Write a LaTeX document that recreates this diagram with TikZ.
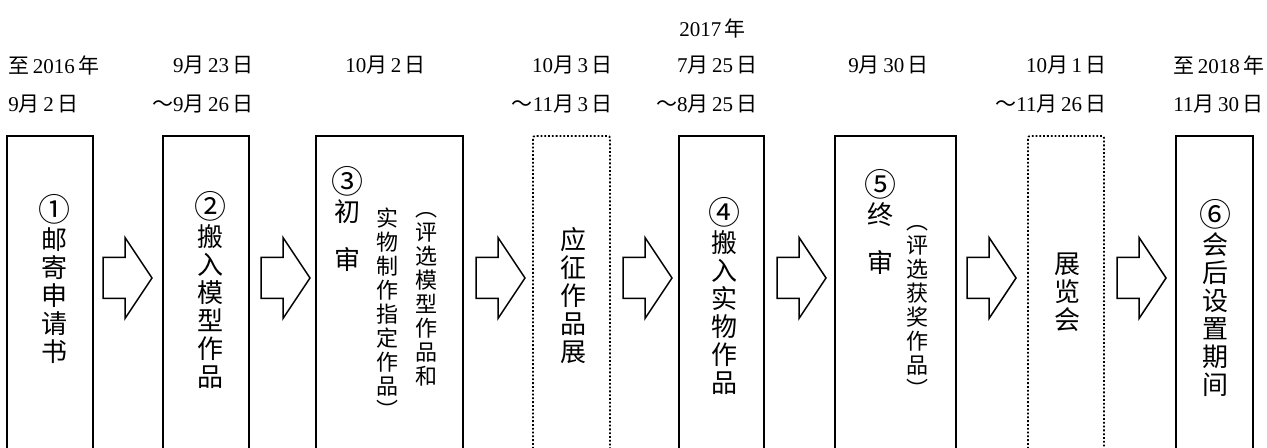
\documentclass[tikz,border=0pt]{standalone}
\usepackage{fontspec}
\setmainfont{Liberation Serif}
\newfontfamily\cjk{Noto Sans CJK SC}
\newcommand{\zh}[1]{{\cjk #1}}
\newcommand{\num}[1]{\raisebox{0pt}[10.5pt][0pt]{\fontsize{16}{14}\selectfont #1}}

\tikzset{
  frame/.style={line width=1.15pt},
  dotframe/.style={line width=.9pt, densely dotted, rounded corners=1pt},
  date/.style={inner sep=0pt, font=\fontsize{10.5}{12}\selectfont},
  vbig/.style={inner sep=0pt, anchor=north, align=center, font=\cjk\fontsize{13}{14}\selectfont},
  vsmall/.style={inner sep=0pt, anchor=north, align=center, font=\cjk\fontsize{11}{12}\selectfont},
  bigarrow/.pic={
    \draw[line width=.75pt, line join=miter] (0,-20.5) -- ++(22,0) -- ++(0,-20) -- ++(27,40.5)
      -- ++(-27,40.5) -- ++(0,-20) -- ++(-22,0) -- cycle;
  }
}

\begin{document}
\begin{tikzpicture}[x=.5pt, y=-.5pt]
  \useasboundingbox (0,0) rectangle (1267,448);

  % frames, open at the bottom
  \foreach \l/\r in {7/93, 163/249, 316/463, 679/764, 835/956, 1176/1253}
    \draw[frame] (\l,460) |- (\r,136) -- (\r,460);
  \draw[dotframe] (533,460) |- (610,136) -- (610,460);
  \draw[dotframe] (1028,460) |- (1104,136) -- (1104,460);

  % block arrows
  \foreach \x [count=\i] in {103, 261, 476, 623, 777, 967, 1117}
    \pic (a\i) at (\x,278) {bigarrow};

  % dates
  \node[date, anchor=west] (d1a) at (8,65) {\zh{至}\,2016\,\zh{年}};
  \node[date, anchor=west] (d1b) at (8,104) {9\zh{月}\,2\,\zh{日}};
  \node[date, anchor=east] (d2a) at (254,65) {9\zh{月}\,23\,\zh{日}};
  \node[date, anchor=east] (d2b) at (254,104) {\zh{～}9\zh{月}\,26\,\zh{日}};
  \node[date, anchor=west] (d3a) at (345,65) {10\zh{月}\,2\,\zh{日}};
  \node[date, anchor=east] (d4a) at (613,65) {10\zh{月}\,3\,\zh{日}};
  \node[date, anchor=east] (d4b) at (613,104) {\zh{～}11\zh{月}\,3\,\zh{日}};
  \node[date, anchor=west] (d5y) at (679,28) {2017\,\zh{年}};
  \node[date, anchor=east] (d5a) at (758,65) {7\zh{月}\,25\,\zh{日}};
  \node[date, anchor=east] (d5b) at (758,104) {\zh{～}8\zh{月}\,25\,\zh{日}};
  \node[date, anchor=west] (d6a) at (848,65) {9\zh{月}\,30\,\zh{日}};
  \node[date, anchor=east] (d7a) at (1107,65) {10\zh{月}\,1\,\zh{日}};
  \node[date, anchor=east] (d7b) at (1107,104) {\zh{～}11\zh{月}\,26\,\zh{日}};
  \node[date, anchor=west] (d8a) at (1173,65) {\zh{至}\,2018\,\zh{年}};
  \node[date, anchor=west] (d8b) at (1173,104) {11\zh{月}\,30\,\zh{日}};

  % step texts
  \node[vbig] (s1) at (55,200) {\num{①}\\邮\\寄\\申\\请\\书};
  \node[vbig] (s2) at (210,197) {\num{②}\\搬\\入\\模\\型\\作\\品};
  \node[vbig] (s3) at (347,172) {\num{③}\\初\\[10pt]审};
  \node[vsmall] (s3b) at (387,207) {实\\物\\制\\作\\指\\定\\作\\品\\︶};
  \node[vsmall] (s3c) at (426,212) {︵\\评\\选\\模\\型\\作\\品\\和};
  \node[vbig] (s4) at (573,227) {应\\征\\作\\品\\展};
  \node[vbig] (s5) at (724,203) {\num{④}\\搬\\入\\实\\物\\作\\品};
  \node[vbig] (s6) at (880,175) {\num{⑤}\\终\\[10pt]审};
  \node[vsmall] (s6b) at (917,225) {︵\\评\\选\\获\\奖\\作\\品\\︶};
  \node[vbig] (s7) at (1067,253) {展\\览\\会};
  \node[vbig] (s8) at (1215,205) {\num{⑥}\\会\\后\\设\\置\\期\\间};
\end{tikzpicture}
\end{document}
